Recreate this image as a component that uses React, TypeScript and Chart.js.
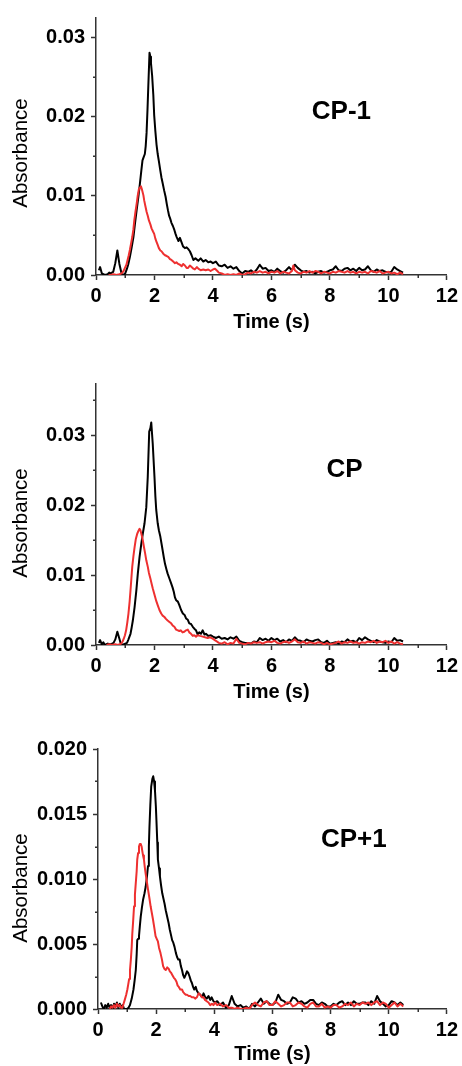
import React, { useEffect, useRef } from 'react';
import { Chart, registerables } from 'chart.js';

Chart.register(...registerables);

// ---------- data (time in s, absorbance) ----------
const X_MINOR = [1, 3, 5, 7, 9, 11];

const P1_BLACK: number[][] = [
  [0.1,0.0006],[0.14,0.001],[0.2,0.0002],[0.3,0],[0.4,0.0001],[0.45,0.0003],[0.5,0.0002],[0.59,0.0004],[0.66,0.0015],[0.73,0.0031],[0.8,0.0014],[0.88,0.0001],[0.93,0],[1.0,0.0002],[1.05,0.0007],[1.1,0.0013],[1.16,0.0023],[1.22,0.0035],[1.28,0.0048],[1.33,0.0064],[1.39,0.0082],[1.45,0.0099],[1.5,0.0115],[1.55,0.0132],[1.59,0.0145],[1.63,0.0149],[1.67,0.0153],[1.7,0.0163],[1.73,0.018],[1.76,0.0208],[1.79,0.024],[1.83,0.0281],[1.86,0.0276],[1.88,0.0268],[1.92,0.0252],[1.96,0.0228],[1.99,0.0202],[2.03,0.0182],[2.07,0.0165],[2.11,0.0153],[2.15,0.0144],[2.2,0.0132],[2.24,0.0123],[2.28,0.0116],[2.33,0.0107],[2.38,0.0099],[2.42,0.009],[2.46,0.0082],[2.5,0.0075],[2.54,0.0071],[2.58,0.0066],[2.63,0.0062],[2.68,0.0057],[2.72,0.0052],[2.76,0.0048],[2.82,0.0043],[2.87,0.0047],[2.93,0.0041],[2.98,0.0036],[3.04,0.0034],[3.1,0.0035],[3.15,0.0033],[3.21,0.003],[3.27,0.0025],[3.33,0.0019],[3.4,0.0021],[3.5,0.0018],[3.58,0.0021],[3.67,0.0017],[3.75,0.0019],[3.84,0.0016],[3.92,0.0017],[4.0,0.0015],[4.1,0.0017],[4.2,0.0012],[4.3,0.0011],[4.4,0.0013],[4.5,0.0009],[4.6,0.0011],[4.7,0.0008],[4.8,0.001],[4.9,0.0005],[5.0,0.0002],[5.1,0.0005],[5.2,0.0004],[5.3,0.0006],[5.4,0.0003],[5.5,0.0007],[5.6,0.0013],[5.7,0.0008],[5.8,0.0009],[5.9,0.0005],[6.0,0.0006],[6.1,0.0004],[6.2,0.0008],[6.3,0.0005],[6.4,0.0003],[6.5,0.0006],[6.6,0.001],[6.7,0.0006],[6.8,0.0013],[6.9,0.0009],[7.0,0.0006],[7.1,0.0004],[7.2,0.0005],[7.3,0.0003],[7.4,0.0004],[7.5,0.0002],[7.6,0.0004],[7.7,0.0005],[7.8,0.0003],[7.9,0.0004],[8.0,0.0006],[8.1,0.0007],[8.2,0.0011],[8.3,0.0006],[8.4,0.0005],[8.5,0.0008],[8.6,0.0009],[8.7,0.0006],[8.8,0.0008],[8.9,0.0005],[9.0,0.0009],[9.1,0.0006],[9.2,0.0007],[9.3,0.0011],[9.4,0.0006],[9.5,0.0004],[9.6,0.0007],[9.7,0.0005],[9.8,0.0006],[9.9,0.0004],[10.0,0.0003],[10.1,0.0004],[10.2,0.001],[10.3,0.0007],[10.4,0.0005],[10.5,0.0003]
];

const P1_RED: number[][] = [
  [0.43,0],[0.5,0],[0.6,0.0001],[0.7,0],[0.8,0.0001],[0.88,0.0002],[0.94,0.0005],[0.99,0.0009],[1.04,0.0013],[1.08,0.0019],[1.12,0.0025],[1.16,0.0032],[1.2,0.004],[1.24,0.0048],[1.28,0.0058],[1.31,0.0069],[1.35,0.008],[1.39,0.009],[1.43,0.0101],[1.47,0.0109],[1.51,0.0111],[1.54,0.0112],[1.58,0.0107],[1.62,0.0101],[1.65,0.0094],[1.69,0.0087],[1.73,0.008],[1.77,0.0075],[1.81,0.0069],[1.86,0.0064],[1.9,0.0059],[1.95,0.0055],[1.99,0.0052],[2.03,0.0046],[2.07,0.0042],[2.11,0.0038],[2.15,0.0034],[2.2,0.0031],[2.24,0.003],[2.3,0.0027],[2.36,0.0025],[2.42,0.0024],[2.47,0.0023],[2.53,0.002],[2.58,0.0019],[2.64,0.0017],[2.7,0.0015],[2.75,0.0016],[2.81,0.0014],[2.87,0.0013],[2.93,0.0011],[2.98,0.0014],[3.04,0.0012],[3.1,0.0009],[3.15,0.0009],[3.21,0.0012],[3.27,0.001],[3.33,0.0008],[3.38,0.0007],[3.45,0.001],[3.5,0.0008],[3.58,0.0006],[3.67,0.0007],[3.75,0.0006],[3.84,0.0007],[3.92,0.0005],[4.0,0.0007],[4.07,0.0008],[4.15,0.0005],[4.2,0.0003],[4.3,0.0002],[4.4,0],[4.5,0.0001],[4.6,0],[4.7,0.0001],[4.8,0],[4.9,0.0002],[5.0,0],[5.1,0.0001],[5.2,0.0003],[5.3,0.0002],[5.4,0.0004],[5.5,0.0003],[5.6,0.0005],[5.7,0.0003],[5.8,0.0004],[5.9,0.0002],[6.0,0.0004],[6.1,0.0003],[6.2,0.0005],[6.3,0.0002],[6.4,0.0004],[6.5,0.0003],[6.6,0.0002],[6.7,0.0005],[6.75,0.0012],[6.8,0.0006],[6.9,0.0003],[7.0,0.0002],[7.1,0.0004],[7.2,0.0003],[7.3,0.0005],[7.4,0.0003],[7.5,0.0005],[7.6,0.0004],[7.7,0.0002],[7.8,0.0004],[7.9,0.0003],[8.0,0.0002],[8.1,0.0004],[8.2,0.0003],[8.3,0.0005],[8.4,0.0004],[8.5,0.0003],[8.6,0.0005],[8.7,0.0003],[8.8,0.0004],[8.9,0.0002],[9.0,0.0004],[9.1,0.0003],[9.2,0.0004],[9.3,0.0002],[9.4,0.0005],[9.5,0.0004],[9.6,0.0003],[9.7,0.0005],[9.8,0.0002],[9.9,0.0003],[10.0,0.0004],[10.1,0.0002],[10.2,0.0003],[10.3,0.0001],[10.4,0.0003],[10.5,0.0001]
];

const P2_BLACK: number[][] = [
  [0.1,0.0003],[0.14,0.0007],[0.2,0.0001],[0.25,0.0004],[0.3,0],[0.4,0.0002],[0.5,0.0001],[0.6,0.0003],[0.66,0.0008],[0.73,0.0019],[0.8,0.0009],[0.86,0],[0.95,0.0001],[1.0,0.0002],[1.06,0.0003],[1.1,0.0007],[1.18,0.0016],[1.22,0.0025],[1.26,0.0035],[1.32,0.0054],[1.38,0.0078],[1.43,0.0102],[1.49,0.0126],[1.55,0.0145],[1.6,0.0159],[1.66,0.0174],[1.72,0.0197],[1.77,0.024],[1.82,0.0305],[1.86,0.031],[1.89,0.0318],[1.94,0.0288],[2.0,0.024],[2.03,0.0213],[2.06,0.0193],[2.11,0.0174],[2.15,0.0164],[2.2,0.0155],[2.24,0.0145],[2.28,0.0135],[2.32,0.0125],[2.36,0.0116],[2.41,0.0108],[2.45,0.0102],[2.51,0.0095],[2.57,0.0088],[2.62,0.0082],[2.66,0.0076],[2.7,0.0068],[2.74,0.0064],[2.8,0.0062],[2.85,0.0057],[2.91,0.005],[2.97,0.0045],[3.03,0.0043],[3.08,0.0038],[3.14,0.0036],[3.19,0.0031],[3.25,0.003],[3.31,0.0026],[3.37,0.0023],[3.42,0.0021],[3.48,0.0015],[3.53,0.0018],[3.59,0.0016],[3.65,0.0021],[3.71,0.0015],[3.76,0.0016],[3.84,0.0013],[3.93,0.0014],[4.0,0.0012],[4.1,0.001],[4.2,0.0012],[4.3,0.0009],[4.4,0.001],[4.5,0.0008],[4.6,0.0011],[4.7,0.0009],[4.8,0.0012],[4.9,0.0006],[5.0,0.0004],[5.1,0.0003],[5.2,0.0003],[5.3,0.0002],[5.4,0.0005],[5.5,0.0004],[5.6,0.001],[5.7,0.0007],[5.8,0.0009],[5.9,0.0006],[6.0,0.001],[6.1,0.0007],[6.2,0.0009],[6.3,0.0005],[6.4,0.0007],[6.5,0.0004],[6.6,0.0008],[6.7,0.0006],[6.8,0.0011],[6.9,0.0007],[7.0,0.0006],[7.1,0.0004],[7.2,0.0008],[7.3,0.0006],[7.4,0.0005],[7.5,0.0007],[7.6,0.0008],[7.7,0.0004],[7.8,0.0003],[7.9,0.0006],[8.0,0.0002],[8.1,0.0003],[8.2,0.0004],[8.3,0.0002],[8.4,0.0005],[8.5,0.0004],[8.6,0.0008],[8.7,0.0005],[8.8,0.0006],[8.9,0.0004],[9.0,0.001],[9.1,0.0007],[9.2,0.0011],[9.3,0.0008],[9.4,0.0006],[9.5,0.0004],[9.6,0.0007],[9.7,0.0005],[9.8,0.0004],[9.9,0.0003],[10.0,0.0005],[10.1,0.0004],[10.2,0.001],[10.3,0.0006],[10.4,0.0007],[10.5,0.0005]
];

const P2_RED: number[][] = [
  [0.36,0],[0.45,0.0001],[0.55,0],[0.65,0.0001],[0.75,0],[0.86,0.0002],[0.91,0.0005],[0.95,0.0009],[0.99,0.0014],[1.03,0.0021],[1.07,0.0032],[1.11,0.0045],[1.15,0.0062],[1.18,0.0078],[1.21,0.0095],[1.24,0.0112],[1.28,0.0127],[1.32,0.014],[1.36,0.0151],[1.41,0.0159],[1.45,0.0163],[1.49,0.0166],[1.52,0.0164],[1.55,0.0159],[1.6,0.015],[1.64,0.014],[1.68,0.0131],[1.72,0.0121],[1.77,0.0112],[1.81,0.0103],[1.86,0.0095],[1.9,0.0088],[1.94,0.0081],[1.98,0.0075],[2.02,0.0069],[2.06,0.0063],[2.11,0.0057],[2.17,0.005],[2.23,0.0045],[2.28,0.0042],[2.34,0.004],[2.4,0.0037],[2.45,0.0035],[2.51,0.0033],[2.57,0.0031],[2.62,0.0028],[2.68,0.0026],[2.74,0.0022],[2.8,0.0021],[2.85,0.002],[2.9,0.0021],[2.96,0.0018],[3.02,0.0019],[3.08,0.0021],[3.14,0.0022],[3.19,0.0018],[3.25,0.0016],[3.31,0.0013],[3.36,0.0014],[3.42,0.0012],[3.48,0.0014],[3.56,0.0013],[3.65,0.0012],[3.73,0.0011],[3.82,0.001],[3.9,0.0011],[3.99,0.0009],[4.1,0.0006],[4.2,0.0003],[4.3,0.0002],[4.4,0.0004],[4.5,0.0001],[4.6,0.0003],[4.7,0.0002],[4.8,0.0009],[4.9,0.0003],[5.0,0.0002],[5.1,0.0001],[5.2,0.0003],[5.3,0.0002],[5.4,0.0004],[5.5,0.0003],[5.6,0.0004],[5.7,0.0002],[5.8,0.0004],[5.9,0.0005],[6.0,0.0004],[6.1,0.0006],[6.2,0.0003],[6.3,0.0002],[6.4,0.0004],[6.5,0.0005],[6.6,0.0003],[6.7,0.0005],[6.8,0.0008],[6.9,0.0004],[7.0,0.0003],[7.1,0.0005],[7.2,0.0002],[7.3,0.0004],[7.4,0.0003],[7.5,0.0002],[7.6,0.0004],[7.7,0.0003],[7.8,0.0001],[7.9,0.0003],[8.0,0.0001],[8.1,0.0002],[8.2,0.0003],[8.3,0.0005],[8.4,0.0002],[8.5,0.0004],[8.6,0.0003],[8.7,0.0005],[8.8,0.0003],[8.9,0.0004],[9.0,0.0002],[9.1,0.0004],[9.2,0.0003],[9.3,0.0005],[9.4,0.0004],[9.5,0.0006],[9.6,0.0003],[9.7,0.0005],[9.8,0.0004],[9.9,0.0006],[10.0,0.0003],[10.1,0.0005],[10.2,0.0002],[10.3,0.0004],[10.4,0.0002],[10.5,0.0001]
];

const P3_BLACK: number[][] = [
  [0.1,0.0005],[0.15,0.0002],[0.2,0],[0.25,0.0003],[0.3,0.0001],[0.35,0.0004],[0.4,0.0001],[0.45,0.0003],[0.5,0],[0.55,0.0004],[0.6,0.0002],[0.65,0.0005],[0.7,0.0001],[0.75,0.0004],[0.8,0.0001],[0.85,0.0003],[0.9,0],[0.99,0],[1.05,0.0001],[1.1,0.0003],[1.16,0.0008],[1.22,0.0015],[1.26,0.0022],[1.3,0.003],[1.33,0.0042],[1.35,0.0053],[1.38,0.0054],[1.41,0.0056],[1.44,0.0064],[1.47,0.0071],[1.51,0.0078],[1.55,0.0084],[1.6,0.0089],[1.64,0.0094],[1.68,0.0101],[1.72,0.011],[1.75,0.0125],[1.77,0.014],[1.8,0.0157],[1.83,0.0171],[1.87,0.0177],[1.9,0.0179],[1.93,0.0175],[1.96,0.0168],[1.99,0.0156],[2.01,0.0145],[2.04,0.0128],[2.06,0.0115],[2.1,0.0108],[2.13,0.0102],[2.17,0.0095],[2.21,0.0089],[2.25,0.0085],[2.29,0.0081],[2.33,0.0076],[2.38,0.0071],[2.43,0.0066],[2.47,0.0061],[2.51,0.0057],[2.55,0.0053],[2.59,0.0051],[2.63,0.0048],[2.68,0.0043],[2.72,0.004],[2.76,0.0038],[2.81,0.0038],[2.85,0.0033],[2.89,0.003],[2.93,0.0026],[2.97,0.0024],[3.01,0.0026],[3.06,0.0029],[3.1,0.0028],[3.15,0.0025],[3.19,0.0022],[3.23,0.002],[3.27,0.0017],[3.31,0.0015],[3.36,0.0017],[3.4,0.0014],[3.46,0.0012],[3.52,0.0011],[3.58,0.0009],[3.63,0.0012],[3.69,0.0009],[3.74,0.0008],[3.8,0.001],[3.86,0.0007],[3.91,0.0009],[3.97,0.0006],[4.03,0.0005],[4.1,0.0006],[4.2,0.0003],[4.3,0.0005],[4.4,0.0001],[4.5,0.0003],[4.6,0.001],[4.7,0.0004],[4.8,0.0002],[4.9,0.0003],[5.0,0.0001],[5.1,0.0002],[5.2,0],[5.3,0.0004],[5.4,0.0002],[5.5,0.0005],[5.6,0.0008],[5.7,0.0004],[5.8,0.0006],[5.9,0.0004],[6.0,0.0003],[6.1,0.0005],[6.2,0.0011],[6.3,0.0007],[6.4,0.0006],[6.5,0.0004],[6.6,0.0005],[6.7,0.0009],[6.8,0.0008],[6.9,0.0005],[7.0,0.0006],[7.1,0.0004],[7.2,0.0005],[7.3,0.0007],[7.4,0.0007],[7.5,0.0004],[7.6,0.0003],[7.7,0.0005],[7.8,0.0004],[7.9,0.0002],[8.0,0.0002],[8.1,0.0004],[8.2,0.0003],[8.3,0.0005],[8.4,0.0006],[8.5,0.0003],[8.6,0.0005],[8.7,0.0003],[8.8,0.0006],[8.9,0.0004],[9.0,0.0004],[9.1,0.0005],[9.2,0.0005],[9.3,0.0003],[9.4,0.0006],[9.5,0.0004],[9.6,0.001],[9.7,0.0006],[9.8,0.0004],[9.9,0.0002],[10.0,0.0003],[10.1,0.0006],[10.2,0.0005],[10.3,0.0003],[10.4,0.0005],[10.5,0.0003]
];

const P3_RED: number[][] = [
  [0.4,0],[0.45,0.0002],[0.5,0.0001],[0.55,0.0003],[0.6,0.0001],[0.65,0.0004],[0.7,0.0002],[0.75,0.0003],[0.8,0.0001],[0.84,0.0001],[0.88,0.0004],[0.92,0.0007],[0.97,0.0011],[1.01,0.0015],[1.04,0.0019],[1.07,0.0023],[1.1,0.003],[1.13,0.0038],[1.16,0.0048],[1.18,0.0058],[1.21,0.0068],[1.24,0.0079],[1.27,0.0088],[1.3,0.0097],[1.33,0.0106],[1.35,0.0115],[1.38,0.012],[1.41,0.0125],[1.44,0.0127],[1.47,0.0127],[1.5,0.0125],[1.52,0.0122],[1.55,0.0118],[1.58,0.0115],[1.61,0.0109],[1.64,0.0104],[1.68,0.0098],[1.72,0.0092],[1.77,0.0085],[1.81,0.0079],[1.85,0.0074],[1.89,0.0069],[1.94,0.0062],[1.98,0.0056],[2.02,0.0054],[2.06,0.0052],[2.1,0.0047],[2.15,0.0043],[2.2,0.0038],[2.24,0.0033],[2.28,0.0031],[2.33,0.003],[2.38,0.0032],[2.43,0.0031],[2.47,0.0029],[2.51,0.0028],[2.56,0.0026],[2.61,0.0024],[2.65,0.0023],[2.7,0.0021],[2.74,0.0018],[2.78,0.0017],[2.83,0.0015],[2.89,0.0015],[2.93,0.0013],[2.97,0.0012],[3.02,0.0011],[3.06,0.0011],[3.12,0.001],[3.17,0.001],[3.23,0.0009],[3.29,0.0009],[3.35,0.0008],[3.4,0.0009],[3.46,0.0012],[3.52,0.0011],[3.57,0.0009],[3.63,0.0009],[3.68,0.0007],[3.74,0.0006],[3.8,0.0005],[3.86,0.0003],[3.92,0.0004],[3.97,0.0003],[4.03,0.0005],[4.1,0.0003],[4.2,0.0004],[4.3,0.0002],[4.4,0.0003],[4.5,0.0001],[4.6,0.0001],[4.7,0],[4.8,0.0001],[4.9,0],[5.0,0],[5.1,0.0001],[5.2,0],[5.3,0.0003],[5.4,0.0005],[5.5,0.0003],[5.6,0.0002],[5.7,0.0005],[5.8,0.0006],[5.9,0.0003],[6.0,0.0003],[6.1,0.0006],[6.2,0.0004],[6.3,0.0002],[6.4,0.0003],[6.5,0.0005],[6.6,0.0005],[6.7,0.0002],[6.8,0.0003],[6.9,0.0005],[7.0,0.0004],[7.1,0.0002],[7.2,0.0001],[7.3,0.0004],[7.4,0.0005],[7.5,0.0002],[7.6,0.0002],[7.7,0.0004],[7.8,0.0001],[7.9,0.0002],[8.0,0.0001],[8.1,0.0003],[8.2,0.0003],[8.3,0.0001],[8.4,0.0002],[8.5,0.0004],[8.6,0.0003],[8.7,0.0005],[8.8,0.0002],[8.9,0.0004],[9.0,0.0003],[9.1,0.0005],[9.2,0.0004],[9.3,0.0005],[9.4,0.0003],[9.5,0.0005],[9.6,0.0006],[9.7,0.0003],[9.8,0.0005],[9.9,0.0004],[10.0,0.0001],[10.1,0.0003],[10.2,0.0005],[10.3,0.0002],[10.4,0.0004],[10.5,0.0002]
];

// ---------- layout / style ----------
const FONT = "'Liberation Sans', Arial, Helvetica, sans-serif";
const RED = 'rgb(238,48,48)';
const AXIS = '#333';
const W = 462;
const TICK_SIZE = 20;
const XTITLE_SIZE = 20;

const PANELS = [
  { label: 'CP-1', black: P1_BLACK, red: P1_RED, yMax: 0.0325, yStep: 0.01, digits: 2,
    yMinor: [0.005, 0.015, 0.025], top: 0, height: 345,
    area: { l: 96, r: 447, t: 15, b: 275 }, labelPos: { x: 7.38, y: 0.0206 }, yTitleY: 153, xTitleY: 322 },
  { label: 'CP', black: P2_BLACK, red: P2_RED, yMax: 0.0373, yStep: 0.01, digits: 2,
    yMinor: [0.005, 0.015, 0.025, 0.035], top: 365, height: 345,
    area: { l: 96, r: 448, t: 19, b: 280 }, labelPos: { x: 7.88, y: 0.025 }, yTitleY: 158, xTitleY: 327 },
  { label: 'CP+1', black: P3_BLACK, red: P3_RED, yMax: 0.02, yStep: 0.005, digits: 3,
    yMinor: [0.0025, 0.0075, 0.0125, 0.0175], top: 725, height: 341,
    area: { l: 98, r: 450, t: 24, b: 284 }, labelPos: { x: 7.67, y: 0.013 }, yTitleY: 163, xTitleY: 330 },
];

const decorPlugin = {
  id: 'decor',
  afterDraw(chart: any, _args: any, opts: any) {
    const { ctx, chartArea, scales } = chart;
    const x = scales.x, y = scales.y;
    ctx.save();
    ctx.strokeStyle = AXIS;
    ctx.lineWidth = 1.5;
    for (const v of opts.xMinor) {
      const px = Math.round(x.getPixelForValue(v)) + 0.25;
      ctx.beginPath();
      ctx.moveTo(px, chartArea.bottom);
      ctx.lineTo(px, chartArea.bottom + 3);
      ctx.stroke();
    }
    for (const v of opts.yMinor) {
      const py = Math.round(y.getPixelForValue(v)) + 0.25;
      ctx.beginPath();
      ctx.moveTo(chartArea.left, py);
      ctx.lineTo(chartArea.left - 3, py);
      ctx.stroke();
    }
    // panel label
    ctx.fillStyle = '#000';
    ctx.font = `bold 26px ${FONT}`;
    ctx.textAlign = 'left';
    ctx.textBaseline = 'middle';
    ctx.fillText(opts.label, x.getPixelForValue(opts.labelPos.x), y.getPixelForValue(opts.labelPos.y));
    // y axis title
    ctx.translate(opts.yTitleX, opts.yTitleY);
    ctx.rotate(-Math.PI / 2);
    ctx.font = `20.5px ${FONT}`;
    ctx.textAlign = 'center';
    ctx.fillText(opts.yTitle, 0, 0);
    ctx.restore();
  },
};

function Panel({ p }: { p: (typeof PANELS)[number] }) {
  const ref = useRef<HTMLCanvasElement>(null);
  useEffect(() => {
    if (!ref.current) return;
    const H = p.height;
    const lineDs = (pts: number[][], color: string) => ({
      data: pts.map(([t, a]) => ({ x: t, y: a })),
      borderColor: color,
      backgroundColor: color,
      borderWidth: 2,
      showLine: true,
      pointRadius: 0,
      fill: false,
      tension: 0,
      borderJoinStyle: 'round' as const,
    });
    const tickFont = { family: FONT, size: TICK_SIZE, weight: 'bold' as const };
    const xTitleLH = XTITLE_SIZE * 1.2;
    const chart = new Chart(ref.current, {
      type: 'scatter',
      data: { datasets: [lineDs(p.red, RED), lineDs(p.black, '#000')] },
      plugins: [decorPlugin],
      options: {
        animation: false,
        responsive: false,
        maintainAspectRatio: false,
        events: [],
        layout: { padding: { left: 0, top: p.area.t, right: W - p.area.r, bottom: 0 } },
        plugins: {
          legend: { display: false },
          tooltip: { enabled: false },
          decor: { xMinor: X_MINOR, yMinor: p.yMinor, label: p.label, labelPos: p.labelPos,
            yTitle: 'Absorbance', yTitleX: 21, yTitleY: p.yTitleY },
        } as any,
        scales: {
          x: {
            type: 'linear', min: 0, max: 12,
            ticks: { stepSize: 2, font: tickFont, color: '#000', padding: 4, maxRotation: 0, autoSkip: false,
              callback: (v: any) => String(v) },
            grid: { display: true, drawOnChartArea: false, drawTicks: true, tickLength: 5, tickColor: AXIS, tickWidth: 1.5 },
            border: { display: true, color: AXIS, width: 1.5 },
            title: { display: true, text: 'Time (s)', color: '#000', font: { family: FONT, size: XTITLE_SIZE, weight: 'bold' },
              padding: { top: 0, bottom: Math.max(0, H - p.xTitleY - xTitleLH / 2) } },
            afterFit: (s: any) => { s.height = H - p.area.b; },
          },
          y: {
            type: 'linear', min: 0, max: p.yMax,
            ticks: { stepSize: p.yStep, includeBounds: false, font: tickFont, color: '#000', padding: 6,
              callback: (v: any) => Number(v).toFixed(p.digits) },
            grid: { display: true, drawOnChartArea: false, drawTicks: true, tickLength: 5, tickColor: AXIS, tickWidth: 1.5 },
            border: { display: true, color: AXIS, width: 1.5 },
            afterFit: (s: any) => { s.width = p.area.l; },
          },
        },
      } as any,
    });
    return () => chart.destroy();
  }, [p]);
  return (
    <canvas ref={ref} width={W} height={p.height}
      style={{ position: 'absolute', left: 0, top: p.top, width: W, height: p.height, display: 'block' }} />
  );
}

export default function App() {
  return (
    <div style={{ position: 'absolute', left: 0, top: 0, width: W, height: 1066, background: '#fff', overflow: 'hidden' }}>
      {PANELS.map((p) => <Panel key={p.label} p={p} />)}
    </div>
  );
}
